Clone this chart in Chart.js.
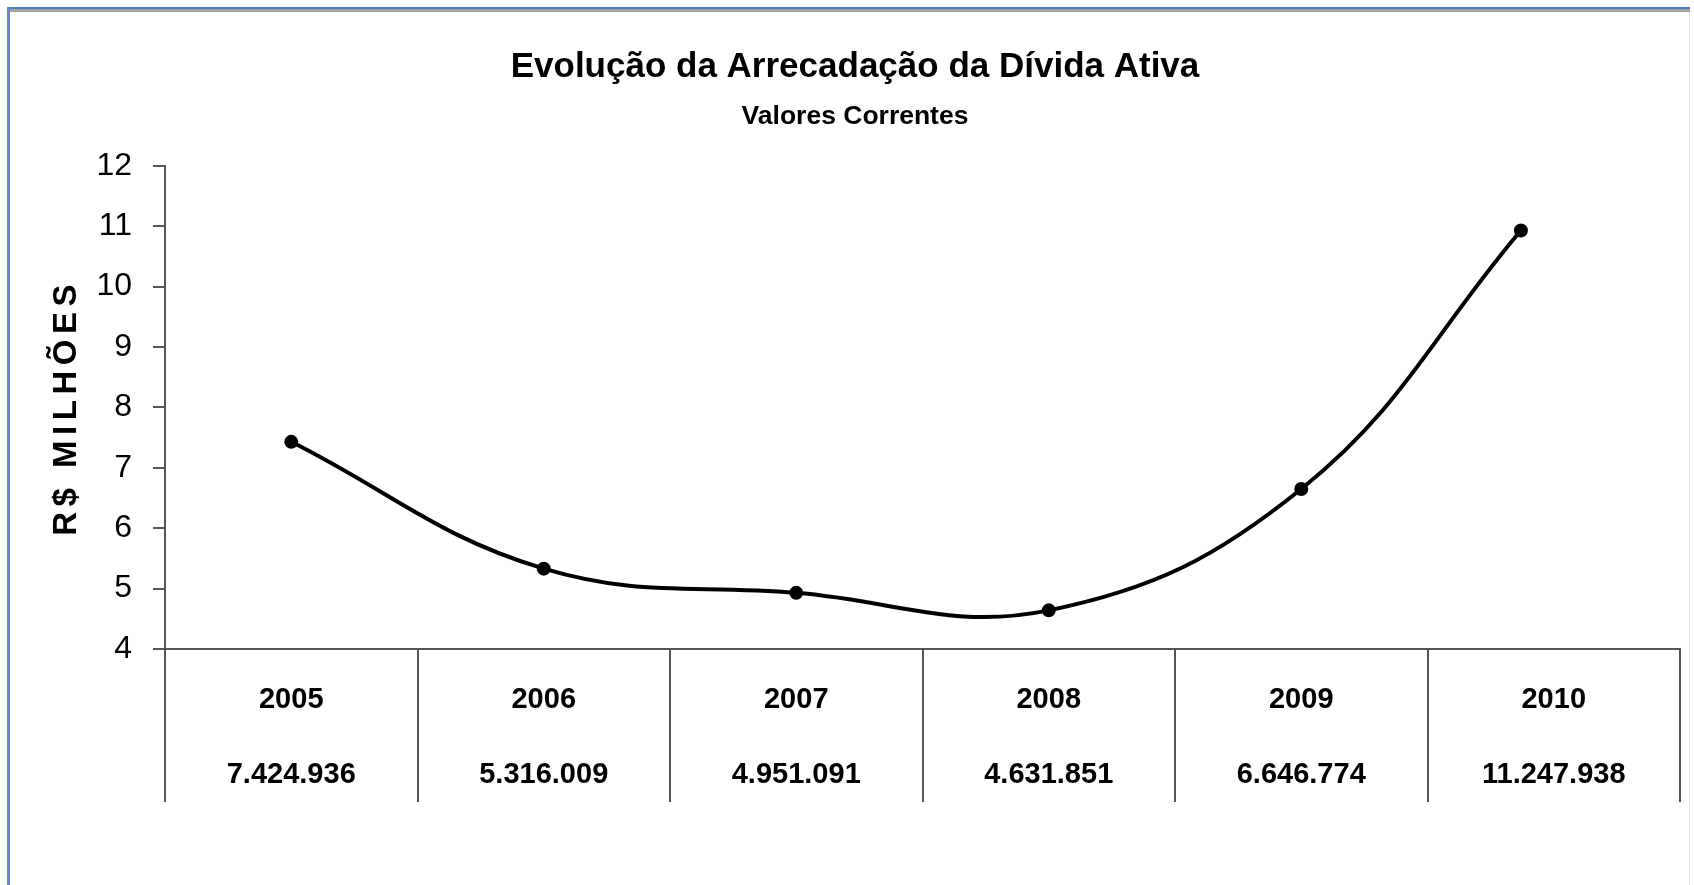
<!DOCTYPE html>
<html>
<head>
<meta charset="utf-8">
<script src="https://cdn.jsdelivr.net/npm/chart.js@4/dist/chart.umd.min.js"></script>
<style>
    html, body { margin: 0; padding: 0; background: #fff; overflow: hidden; }
    #wrap { position: relative; width: 1694px; height: 885px; }
    .edge { position: absolute; pointer-events: none; }
</style>
</head>
<body>
<div id="wrap">
    <canvas id="chartDivida"></canvas>
    <div class="edge" style="left:7px;top:7px;width:1683px;height:2px;background:#4a7ebf"></div>
    <div class="edge" style="left:10px;top:9px;width:1680px;height:3px;background:#a3a3a3"></div>
    <div class="edge" style="left:7px;top:7px;width:3px;height:878px;background:#5b8bd0"></div>
    <div class="edge" style="left:1689px;top:12px;width:1px;height:873px;background:#e4e4e4"></div>
</div>
<script>
const years = ['2005', '2006', '2007', '2008', '2009', '2010'];
const amounts = ['7.424.936', '5.316.009', '4.951.091', '4.631.851', '6.646.774', '11.247.938'];
// values as plotted on the curve (R$ millions)
const plotted = [7.43, 5.33, 4.93, 4.64, 6.65, 10.93];
// where each point sits along the year cells (the last one is drawn left of its cell centre)
const positions = [0, 1, 2, 3, 4, 4.87];

const FAMILY = '"Liberation Sans", Arial, sans-serif';

(function() {
    // spaced letters for the vertical axis title
    const spacedTitle = {
        id: 'spacedTitle',
        beforeDraw(chart) {
            const scale = chart.scales.y;
            if (scale && !scale._spaced) {
                const draw = scale.drawTitle;
                scale.drawTitle = function() {
                    this.ctx.save();
                    this.ctx.letterSpacing = '5.5px';
                    draw.apply(this, arguments);
                    this.ctx.restore();
                };
                scale._spaced = true;
            }
        }
    };

    const labels = years.map(function(year, i) {
        return [year, amounts[i]];
    });

    const arrecadacao = {
        type: 'line',
        label: 'Arrecadação',
        xAxisID: 'pos',
        data: plotted.map(function(v, i) { return { x: positions[i], y: v }; }),
        borderColor: '#000',
        backgroundColor: '#000',
        borderWidth: 4,
        tension: 0.4,
        pointRadius: 5,
        pointHoverRadius: 5
    };

    new Chart(document.getElementById('chartDivida'), {
        data: {
            labels: labels,
            datasets: [arrecadacao]
        },
        options: {
            responsive: true,
            maintainAspectRatio: false,
            animation: false,
            layout: {
                padding: { left: 30, right: 14, top: 0, bottom: 0 }
            },
            plugins: {
                legend: { display: false },
                tooltip: { enabled: false },
                title: {
                    display: true,
                    text: 'Evolução da Arrecadação da Dívida Ativa',
                    color: '#000',
                    font: { family: FAMILY, size: 35, weight: 'bold' },
                    padding: { top: 46, bottom: 0 }
                },
                subtitle: {
                    display: true,
                    text: 'Valores Correntes',
                    color: '#000',
                    font: { family: FAMILY, size: 26.5, weight: 'bold' },
                    padding: { top: 13, bottom: 33 }
                }
            },
            scales: {
                x: {
                    type: 'category',
                    offset: true,
                    afterFit: function(scale) { scale.height = 236; },
                    border: { color: '#555', width: 2 },
                    grid: {
                        offset: true,
                        drawOnChartArea: false,
                        tickLength: 153,
                        color: '#555',
                        lineWidth: 2
                    },
                    ticks: {
                        color: '#000',
                        autoSkip: false,
                        maxRotation: 0,
                        padding: -139.5,
                        font: { family: FAMILY, size: 29, weight: 'bold', lineHeight: 75 / 29 }
                    }
                },
                pos: {
                    type: 'linear',
                    position: 'bottom',
                    display: false,
                    min: -0.5,
                    max: 5.5
                },
                y: {
                    min: 4,
                    max: 12,
                    afterFit: function(scale) { scale.width = 135; },
                    border: { color: '#555', width: 2 },
                    grid: {
                        drawOnChartArea: false,
                        tickLength: 12,
                        color: '#555',
                        lineWidth: 2
                    },
                    ticks: {
                        stepSize: 1,
                        color: '#000',
                        padding: 21,
                        font: { family: FAMILY, size: 32 }
                    },
                    title: {
                        display: true,
                        text: 'R$ MILHÕES',
                        color: '#000',
                        font: { family: FAMILY, size: 33, weight: 'bold', lineHeight: 1.2 },
                        padding: { top: 17, bottom: 0 }
                    }
                }
            }
        },
        plugins: [spacedTitle]
    });
})();
</script>
</body>
</html>
